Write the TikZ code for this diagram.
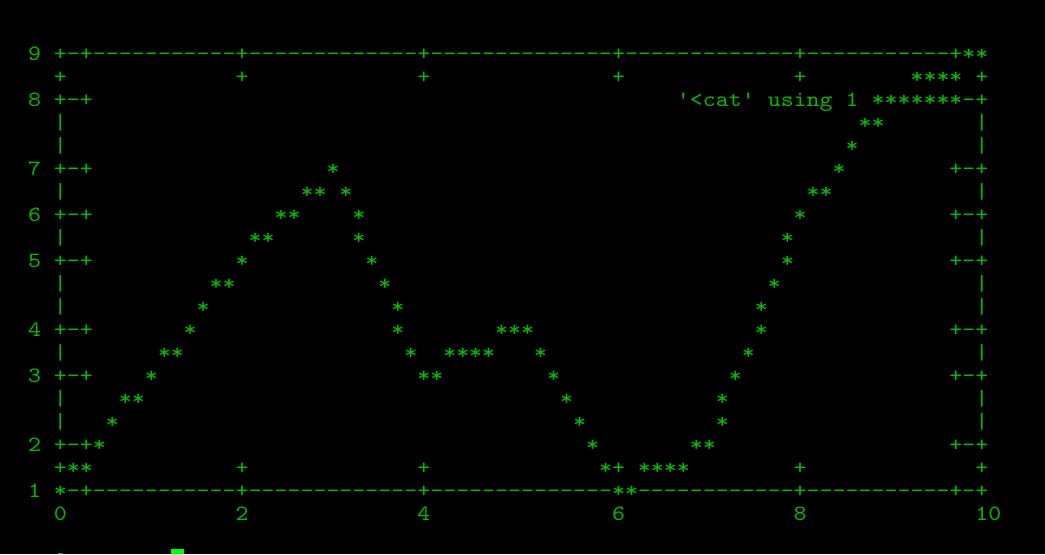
\documentclass[tikz,border=0pt]{standalone}
\usepackage{tikz, xcolor, graphicx}
\definecolor{term_green}{RGB}{0,187,0}
\definecolor{cursor_green}{RGB}{0,255,0}
\newcommand{\gap}[1]{\hskip #1\fontcharwd\font`0\relax}
\newcommand{\dashes}[1]{\foreach \k in {1,...,#1}{-\kern0pt}}
\newcommand{\tline}[1]{\scalebox{1.134}[1]{#1}}
\tikzset{term/.style={anchor=base west, inner sep=0pt, text=term_green,
    font=\ttfamily\fontsize{10.9pt}{11.5pt}\selectfont}}

\begin{document}
\begin{tikzpicture}[x=0.5pt, y=-0.5pt]
    \useasboundingbox (0,0) rectangle (1045,554);
    \fill[black] (0,0) rectangle (1045,554);

    % top border and key
    \node[term] (r0) at (27.6,60) {\tline{9\gap{1}+-+\dashes{11}+\dashes{13}+\dashes{14}+\dashes{13}+\dashes{11}+**}};
    \node[term] (r1) at (27.6,83) {\tline{\gap{2}+\gap{13}+\gap{13}+\gap{14}+\gap{13}+\gap{8}****\gap{1}+}};
    \node[term] (r2) at (27.6,106) {\tline{8\gap{1}+-+\gap{45}\textquotesingle<cat\textquotesingle\gap{1}using\gap{1}1\gap{1}*******-+}};
    \node[term] (r3) at (27.6,129) {\tline{\gap{2}|\gap{61}**\gap{7}|}};
    \node[term] (r4) at (27.6,152) {\tline{\gap{2}|\gap{60}*\gap{9}|}};

    % curve
    \node[term] (r5) at (27.6,175) {\tline{7\gap{1}+-+\gap{18}*\gap{38}*\gap{8}+-+}};
    \node[term] (r6) at (27.6,198) {\tline{\gap{2}|\gap{18}**\gap{1}*\gap{35}**\gap{11}|}};
    \node[term] (r7) at (27.6,221) {\tline{6\gap{1}+-+\gap{14}**\gap{4}*\gap{33}*\gap{11}+-+}};
    \node[term] (r8) at (27.6,244) {\tline{\gap{2}|\gap{14}**\gap{6}*\gap{32}*\gap{14}|}};
    \node[term] (r9) at (27.6,267) {\tline{5\gap{1}+-+\gap{11}*\gap{9}*\gap{31}*\gap{12}+-+}};
    \node[term] (r10) at (27.6,290) {\tline{\gap{2}|\gap{11}**\gap{11}*\gap{29}*\gap{15}|}};
    \node[term] (r11) at (27.6,313) {\tline{\gap{2}|\gap{10}*\gap{14}*\gap{27}*\gap{16}|}};
    \node[term] (r12) at (27.6,336) {\tline{4\gap{1}+-+\gap{7}*\gap{15}*\gap{7}***\gap{17}*\gap{14}+-+}};
    \node[term] (r13) at (27.6,359) {\tline{\gap{2}|\gap{7}**\gap{17}*\gap{2}****\gap{3}*\gap{15}*\gap{17}|}};
    \node[term] (r14) at (27.6,382) {\tline{3\gap{1}+-+\gap{4}*\gap{20}**\gap{8}*\gap{13}*\gap{16}+-+}};
    \node[term] (r15) at (27.6,405) {\tline{\gap{2}|\gap{4}**\gap{32}*\gap{11}*\gap{19}|}};
    \node[term] (r16) at (27.6,428) {\tline{\gap{2}|\gap{3}*\gap{35}*\gap{10}*\gap{19}|}};
    \node[term] (r17) at (27.6,451) {\tline{2\gap{1}+-+*\gap{37}*\gap{7}**\gap{18}+-+}};
    \node[term] (r18) at (27.6,474) {\tline{\gap{2}+**\gap{11}+\gap{13}+\gap{13}*+\gap{1}****\gap{8}+\gap{13}+}};

    % bottom border and x labels
    \node[term] (r19) at (27.6,497) {\tline{1\gap{1}*-+\dashes{11}+\dashes{13}+\dashes{14}**\dashes{12}+\dashes{11}+-+}};
    \node[term] (r20) at (27.6,520) {\tline{\gap{2}0\gap{13}2\gap{13}4\gap{14}6\gap{13}8\gap{13}10}};

    % prompt line, cut off
    \fill[term_green] (58,553) rectangle (63,554);
    \fill[cursor_green] (171,549) rectangle (184,554);
\end{tikzpicture}
\end{document}
